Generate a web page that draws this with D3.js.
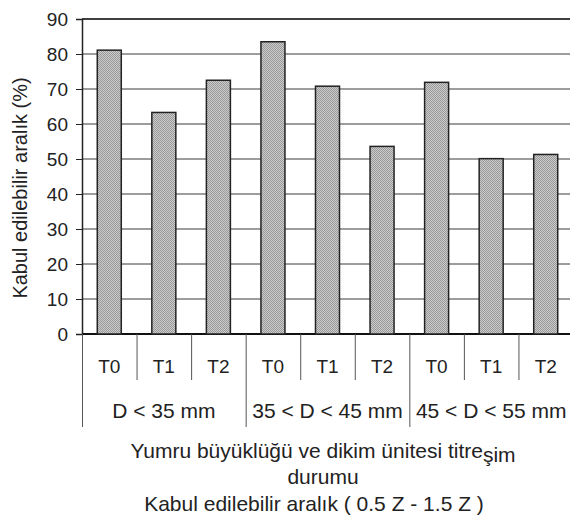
<!DOCTYPE html>
<html>
<head>
<meta charset="utf-8">
<script src="https://cdn.jsdelivr.net/npm/d3@7"></script>
<style>
  body { margin: 0; background: #fff; }
  svg { display: block; font-family: "Liberation Sans", Arial, sans-serif; }
</style>
</head>
<body>
<svg id="chart" width="570" height="527"></svg>
<script>
const groups = ['D < 35 mm', '35 < D < 45 mm', '45 < D < 55 mm'];
const treatments = ['T0', 'T1', 'T2'];
const values = [81.1, 63.3, 72.5, 83.5, 70.8, 53.6, 71.9, 50.1, 51.3];
const yTicks = [0, 10, 20, 30, 40, 50, 60, 70, 80, 90];

const rows = values.map((v, i) => ({
  key: i,
  group: groups[Math.floor(i / 3)],
  label: treatments[i % 3],
  value: v
}));

const svg = d3.select('#chart');
const m = { left: 82, right: 573, top: 19, bottom: 334 };
const ink = '#222';

const x = d3.scaleBand().domain(rows.map(d => d.key)).range([m.left, m.right]).paddingInner(0.56).paddingOuter(0.28);
const band = d3.scaleBand().domain(rows.map(d => d.key)).range([m.left, m.right]);
const y = d3.scaleLinear().domain([0, 90]).range([m.bottom, m.top]);

// halftone-like fill
const pat = svg.append('defs').append('pattern')
  .attr('id', 'dots').attr('width', 2).attr('height', 2).attr('patternUnits', 'userSpaceOnUse');
pat.append('rect').attr('width', 2).attr('height', 2).attr('fill', '#cbcbcb');
pat.append('rect').attr('width', 1).attr('height', 1).attr('fill', '#999');
pat.append('rect').attr('x', 1).attr('y', 1).attr('width', 1).attr('height', 1).attr('fill', '#999');

// gridlines
svg.append('g').selectAll('line').data(yTicks.filter(t => t > 0)).join('line')
  .attr('x1', m.left).attr('x2', m.right)
  .attr('y1', d => y(d)).attr('y2', d => y(d))
  .attr('stroke', '#3a3a3a').attr('stroke-width', 1);

// y axis
const yAxis = svg.append('g').attr('transform', `translate(${m.left},0)`)
  .call(d3.axisLeft(y).tickValues(yTicks).tickSize(6).tickPadding(8));
yAxis.select('.domain').attr('stroke', ink).attr('stroke-width', 1.5);
yAxis.selectAll('.tick line').attr('stroke', ink);
yAxis.selectAll('text').attr('font-size', 19).attr('fill', ink)
  .attr('font-family', '"Liberation Sans", Arial, sans-serif');

// baseline
svg.append('line').attr('x1', m.left).attr('x2', m.right)
  .attr('y1', y(0)).attr('y2', y(0)).attr('stroke', '#111').attr('stroke-width', 2);

// bars
svg.append('g').selectAll('rect').data(rows).join('rect')
  .attr('x', d => x(d.key)).attr('width', x.bandwidth())
  .attr('y', d => y(d.value)).attr('height', d => y(0) - y(d.value))
  .attr('fill', 'url(#dots)').attr('stroke', ink).attr('stroke-width', 1.5);

// category table under the axis
const cat = svg.append('g');
cat.selectAll('line.sep').data(rows).join('line').attr('class', 'sep')
  .attr('x1', d => band(d.key) + 0.5).attr('x2', d => band(d.key) + 0.5)
  .attr('y1', y(0)).attr('y2', d => d.key % 3 === 0 ? 427 : 380)
  .attr('stroke', '#555').attr('stroke-width', 1);
cat.append('line').attr('x1', m.right).attr('x2', m.right).attr('y1', y(0)).attr('y2', 427).attr('stroke', '#555');
cat.selectAll('text.t').data(rows).join('text').attr('class', 't')
  .attr('x', d => band(d.key) + band.bandwidth() / 2).attr('y', 373)
  .attr('text-anchor', 'middle').attr('font-size', 19).attr('fill', ink)
  .text(d => d.label);
cat.selectAll('text.g').data(groups).join('text').attr('class', 'g')
  .attr('x', (d, i) => band(i * 3) + band.bandwidth() * 1.5).attr('y', 418)
  .attr('text-anchor', 'middle').attr('font-size', 21).attr('fill', ink)
  .text(d => d);

// frame top
svg.append('line').attr('x1', m.left).attr('x2', m.right).attr('y1', m.top).attr('y2', m.top)
  .attr('stroke', ink).attr('stroke-width', 1.5);

// axis titles
svg.append('text').attr('transform', 'translate(27,188) rotate(-90)')
  .attr('text-anchor', 'middle').attr('font-size', 20).attr('fill', ink)
  .text('Kabul edilebilir aralık (%)');

const t1 = svg.append('text').attr('x', 323).attr('y', 458)
  .attr('text-anchor', 'middle').attr('font-size', 21).attr('fill', ink);
t1.append('tspan').text('Yumru büyüklüğü ve dikim ünitesi titre');
t1.append('tspan').attr('dy', 4).text('şim');
svg.append('text').attr('x', 323).attr('y', 484)
  .attr('text-anchor', 'middle').attr('font-size', 21).attr('fill', ink).text('durumu');
svg.append('text').attr('x', 314).attr('y', 511)
  .attr('text-anchor', 'middle').attr('font-size', 21).attr('fill', ink)
  .text('Kabul edilebilir aralık ( 0.5 Z - 1.5 Z )');
</script>
</body>
</html>
